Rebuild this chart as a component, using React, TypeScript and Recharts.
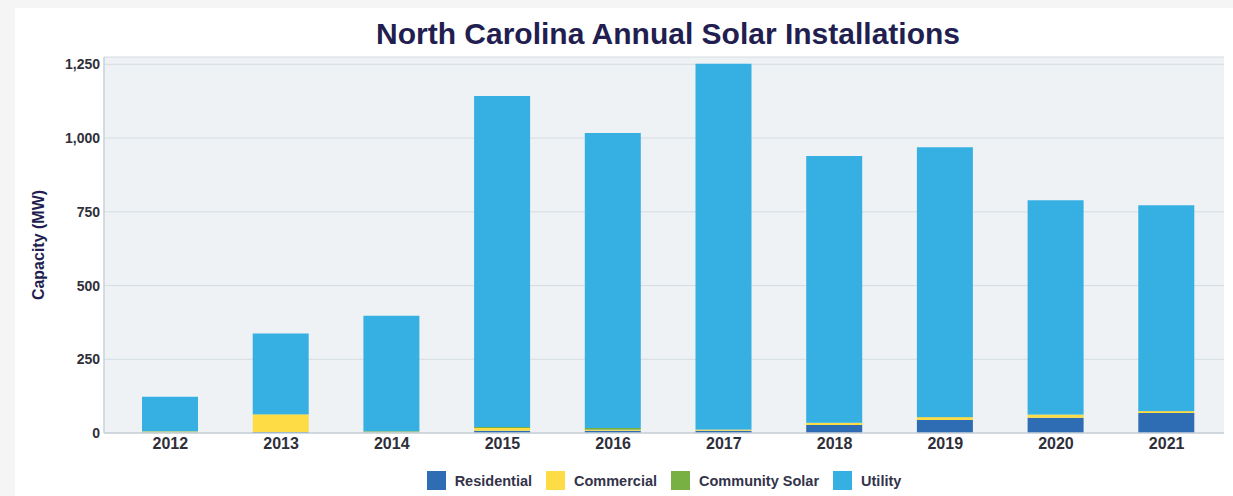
import React from "react";
import {
  BarChart,
  Bar,
  XAxis,
  YAxis,
  CartesianGrid,
  Legend,
} from "recharts";

const years = ["2012", "2013", "2014", "2015", "2016", "2017", "2018", "2019", "2020", "2021"];
const residential = [2, 3, 2, 8, 8, 8, 27, 44, 52, 68];
const commercial = [3, 60, 2, 9, 3, 3, 7, 9, 10, 6];
const communitySolar = [1, 1, 2, 3, 6, 1, 1, 1, 1, 1];
const utility = [117, 273, 392, 1123, 1000, 1240, 904, 915, 726, 697];
const yTicks = [0, 250, 500, 750, 1000, 1250];

const series = [
  { key: "residential", name: "Residential", color: "#2e6db3" },
  { key: "commercial", name: "Commercial", color: "#fddc45" },
  { key: "community", name: "Community Solar", color: "#78b043" },
  { key: "utility", name: "Utility", color: "#36b0e3" },
];

const data = years.map((year, i) => ({
  year,
  residential: residential[i],
  commercial: commercial[i],
  community: communitySolar[i],
  utility: utility[i],
}));

const FONT = "'Liberation Sans', Arial, sans-serif";
const NAVY = "#221e4f";
const TICK = "#2f2f3a";
const FRAME = { stroke: "#c9d2d9", strokeWidth: 1.5 };

function LegendContent() {
  return (
    <div style={{ display: "flex", justifyContent: "center", alignItems: "center", fontFamily: FONT }}>
      {series.map((s, i) => (
        <div
          key={s.key}
          style={{ display: "flex", alignItems: "center", marginLeft: i === 0 ? 0 : 14 }}
        >
          <span style={{ width: 19, height: 19, backgroundColor: s.color, display: "inline-block" }} />
          <span style={{ marginLeft: 9, fontSize: 14.5, fontWeight: 700, color: "#33334a" }}>{s.name}</span>
        </div>
      ))}
    </div>
  );
}

export default function App() {
  return (
    <div style={{ position: "fixed", top: 0, left: 0, width: 1233, height: 496, background: "#f5f5f5" }}>
      <div style={{ position: "absolute", top: 8, left: 15, right: 0, bottom: 0, background: "#fff" }} />
      <div
        style={{
          position: "absolute",
          top: 16,
          left: 0,
          width: 1336,
          textAlign: "center",
          fontFamily: FONT,
          fontWeight: 700,
          fontSize: 30,
          color: NAVY,
          lineHeight: "36px",
        }}
      >
        North Carolina Annual Solar Installations
      </div>
      <div style={{ position: "absolute", top: 0, left: 0 }}>
        <BarChart
          width={1233}
          height={496}
          data={data}
          margin={{ top: 57, right: 9, left: 0, bottom: 33 }}
          barSize={56}
        >
          <CartesianGrid vertical={false} fill="#eef2f5" stroke="#d5dce2" />
          <XAxis
            dataKey="year"
            axisLine={FRAME}
            tickLine={false}
            tickSize={4}
            tickMargin={1}
            height={30}
            padding={{ left: 11, right: 2 }}
            tick={{ fill: TICK, fontSize: 16, fontWeight: 700, fontFamily: FONT }}
          />
          <XAxis xAxisId="top" orientation="top" dataKey="year" height={0} tick={false} tickLine={false} axisLine={FRAME} />
          <YAxis
            width={104}
            domain={[0, 1275]}
            ticks={yTicks}
            axisLine={FRAME}
            tickLine={false}
            tickSize={4}
            tickMargin={0}
            tickFormatter={(v: number) => v.toLocaleString("en-US")}
            tick={{ fill: TICK, fontSize: 14, fontWeight: 700, fontFamily: FONT }}
            label={(() => (
              <text
                x={38}
                y={245}
                transform="rotate(-90, 38, 245)"
                textAnchor="middle"
                dominantBaseline="central"
                fill={NAVY}
                fontSize={16}
                fontWeight={700}
                fontFamily={FONT}
              >
                Capacity (MW)
              </text>
            )) as any}
          />
          <YAxis yAxisId="right" orientation="right" width={0} tick={false} tickLine={false} axisLine={FRAME} />
          {series.map((s) => (
            <Bar key={s.key} dataKey={s.key} name={s.name} stackId="a" fill={s.color} isAnimationActive={false} />
          ))}
          <Legend
            layout="horizontal"
            verticalAlign="middle"
            align="center"
            content={() => <LegendContent />}
            wrapperStyle={{ top: 471, left: 104, width: 1120, margin: 0 }}
          />
        </BarChart>
      </div>
    </div>
  );
}
